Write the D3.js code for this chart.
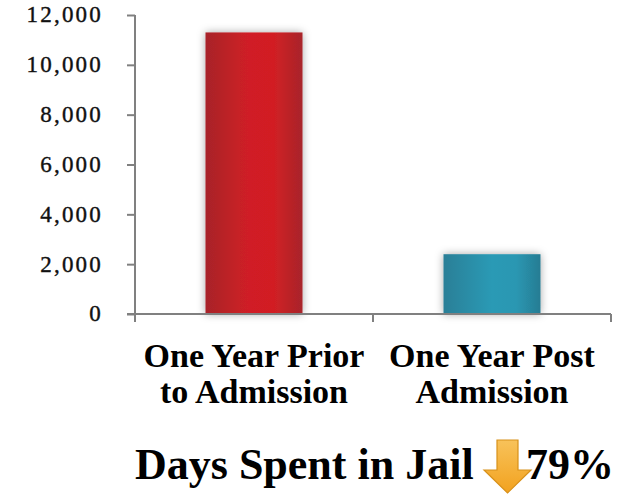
<!DOCTYPE html>
<html><head><meta charset="utf-8">
<script src="https://cdn.jsdelivr.net/npm/d3@7"></script>
<style>body{margin:0;background:#fff}svg{display:block}</style>
</head><body>
<script>
const categories = [["One Year Prior","to Admission"],["One Year Post","Admission"]];
const values = [11300, 2400];
const tickValues = [0,2000,4000,6000,8000,10000,12000];
const titleText = "Days Spent in Jail";
const changeText = "79%";

const W=619,H=495;
const svg=d3.select("body").append("svg").attr("width",W).attr("height",H);
const defs=svg.append("defs");
const f=defs.append("filter").attr("id","sh").attr("x","-30%").attr("y","-30%").attr("width","160%").attr("height","160%");
f.append("feDropShadow").attr("dx",0).attr("dy",0).attr("stdDeviation",4).attr("flood-color","#000").attr("flood-opacity",0.35);
function grad(id,stops){const g=defs.append("linearGradient").attr("id",id).attr("x1","0").attr("x2","1").attr("y1","0").attr("y2","0");
 stops.forEach(s=>g.append("stop").attr("offset",s[0]).attr("stop-color",s[1]));}
grad("g0",[[0,"#a82329"],[0.45,"#d01f25"],[0.7,"#d21f24"],[1,"#a8252a"]]);
grad("g1",[[0,"#2a7f97"],[0.5,"#2b9ab5"],[0.75,"#2a97b2"],[1,"#277c93"]]);
const ga=defs.append("linearGradient").attr("id","ga").attr("x1",0).attr("x2",0).attr("y1",0).attr("y2",1);
ga.append("stop").attr("offset",0).attr("stop-color","#f8c25a");ga.append("stop").attr("offset",1).attr("stop-color","#f2a21f");

const x=d3.scaleBand().domain([0,1]).range([135,611]);
const y=d3.scaleLinear().domain([0,12000]).range([314,15]);
const bw=97;

svg.selectAll("rect.bar").data(values).join("rect")
 .attr("x",(d,i)=>x(i)+x.bandwidth()/2-bw/2).attr("width",bw)
 .attr("y",d=>y(d)).attr("height",d=>y(0)-y(d))
 .attr("fill",(d,i)=>`url(#g${i})`).attr("filter","url(#sh)");

const ya=svg.append("g").attr("transform","translate(135,0)")
 .call(d3.axisLeft(y).tickValues(tickValues).tickSize(8).tickPadding(24).tickFormat(d3.format(",")));
ya.select(".domain").attr("stroke","#808080").attr("stroke-width",2).attr("d","M0,15V314");
ya.selectAll(".tick line").attr("stroke","#808080").attr("stroke-width",2);
ya.selectAll(".tick text").attr("font-family","Liberation Serif").attr("font-size",23).attr("letter-spacing",2.2)
 .attr("fill","#111").attr("stroke","#111").attr("stroke-width",0.4).attr("dy","0.3em");

const xa=svg.append("g").attr("transform","translate(0,314)");
xa.append("line").attr("x1",127).attr("x2",611).attr("stroke","#808080").attr("stroke-width",2);
[135,373,611].forEach(v=>xa.append("line").attr("x1",v).attr("x2",v).attr("y1",0).attr("y2",8).attr("stroke","#808080").attr("stroke-width",2));

categories.forEach((c,i)=>{
 const t=svg.append("text").attr("text-anchor","middle").attr("font-family","Liberation Serif").attr("font-weight","bold").attr("font-size",34).attr("fill","#000");
 c.forEach((l,j)=>t.append("tspan").attr("x",x(i)+x.bandwidth()/2).attr("y",367+j*36).text(l));
});

svg.append("text").attr("x",135).attr("y",479).attr("font-family","Liberation Serif").attr("font-weight","bold").attr("font-size",44).text(titleText);
svg.append("text").attr("x",614).attr("y",479).attr("text-anchor","end").attr("font-family","Liberation Serif").attr("font-weight","bold").attr("font-size",44).text(changeText);
svg.append("path").attr("d","M497,440 H518 V470 H531 L507.5,493 L484,470 H497 Z").attr("fill","url(#ga)").attr("stroke","#d8911a").attr("stroke-width",1.2);
</script>
</body></html>
